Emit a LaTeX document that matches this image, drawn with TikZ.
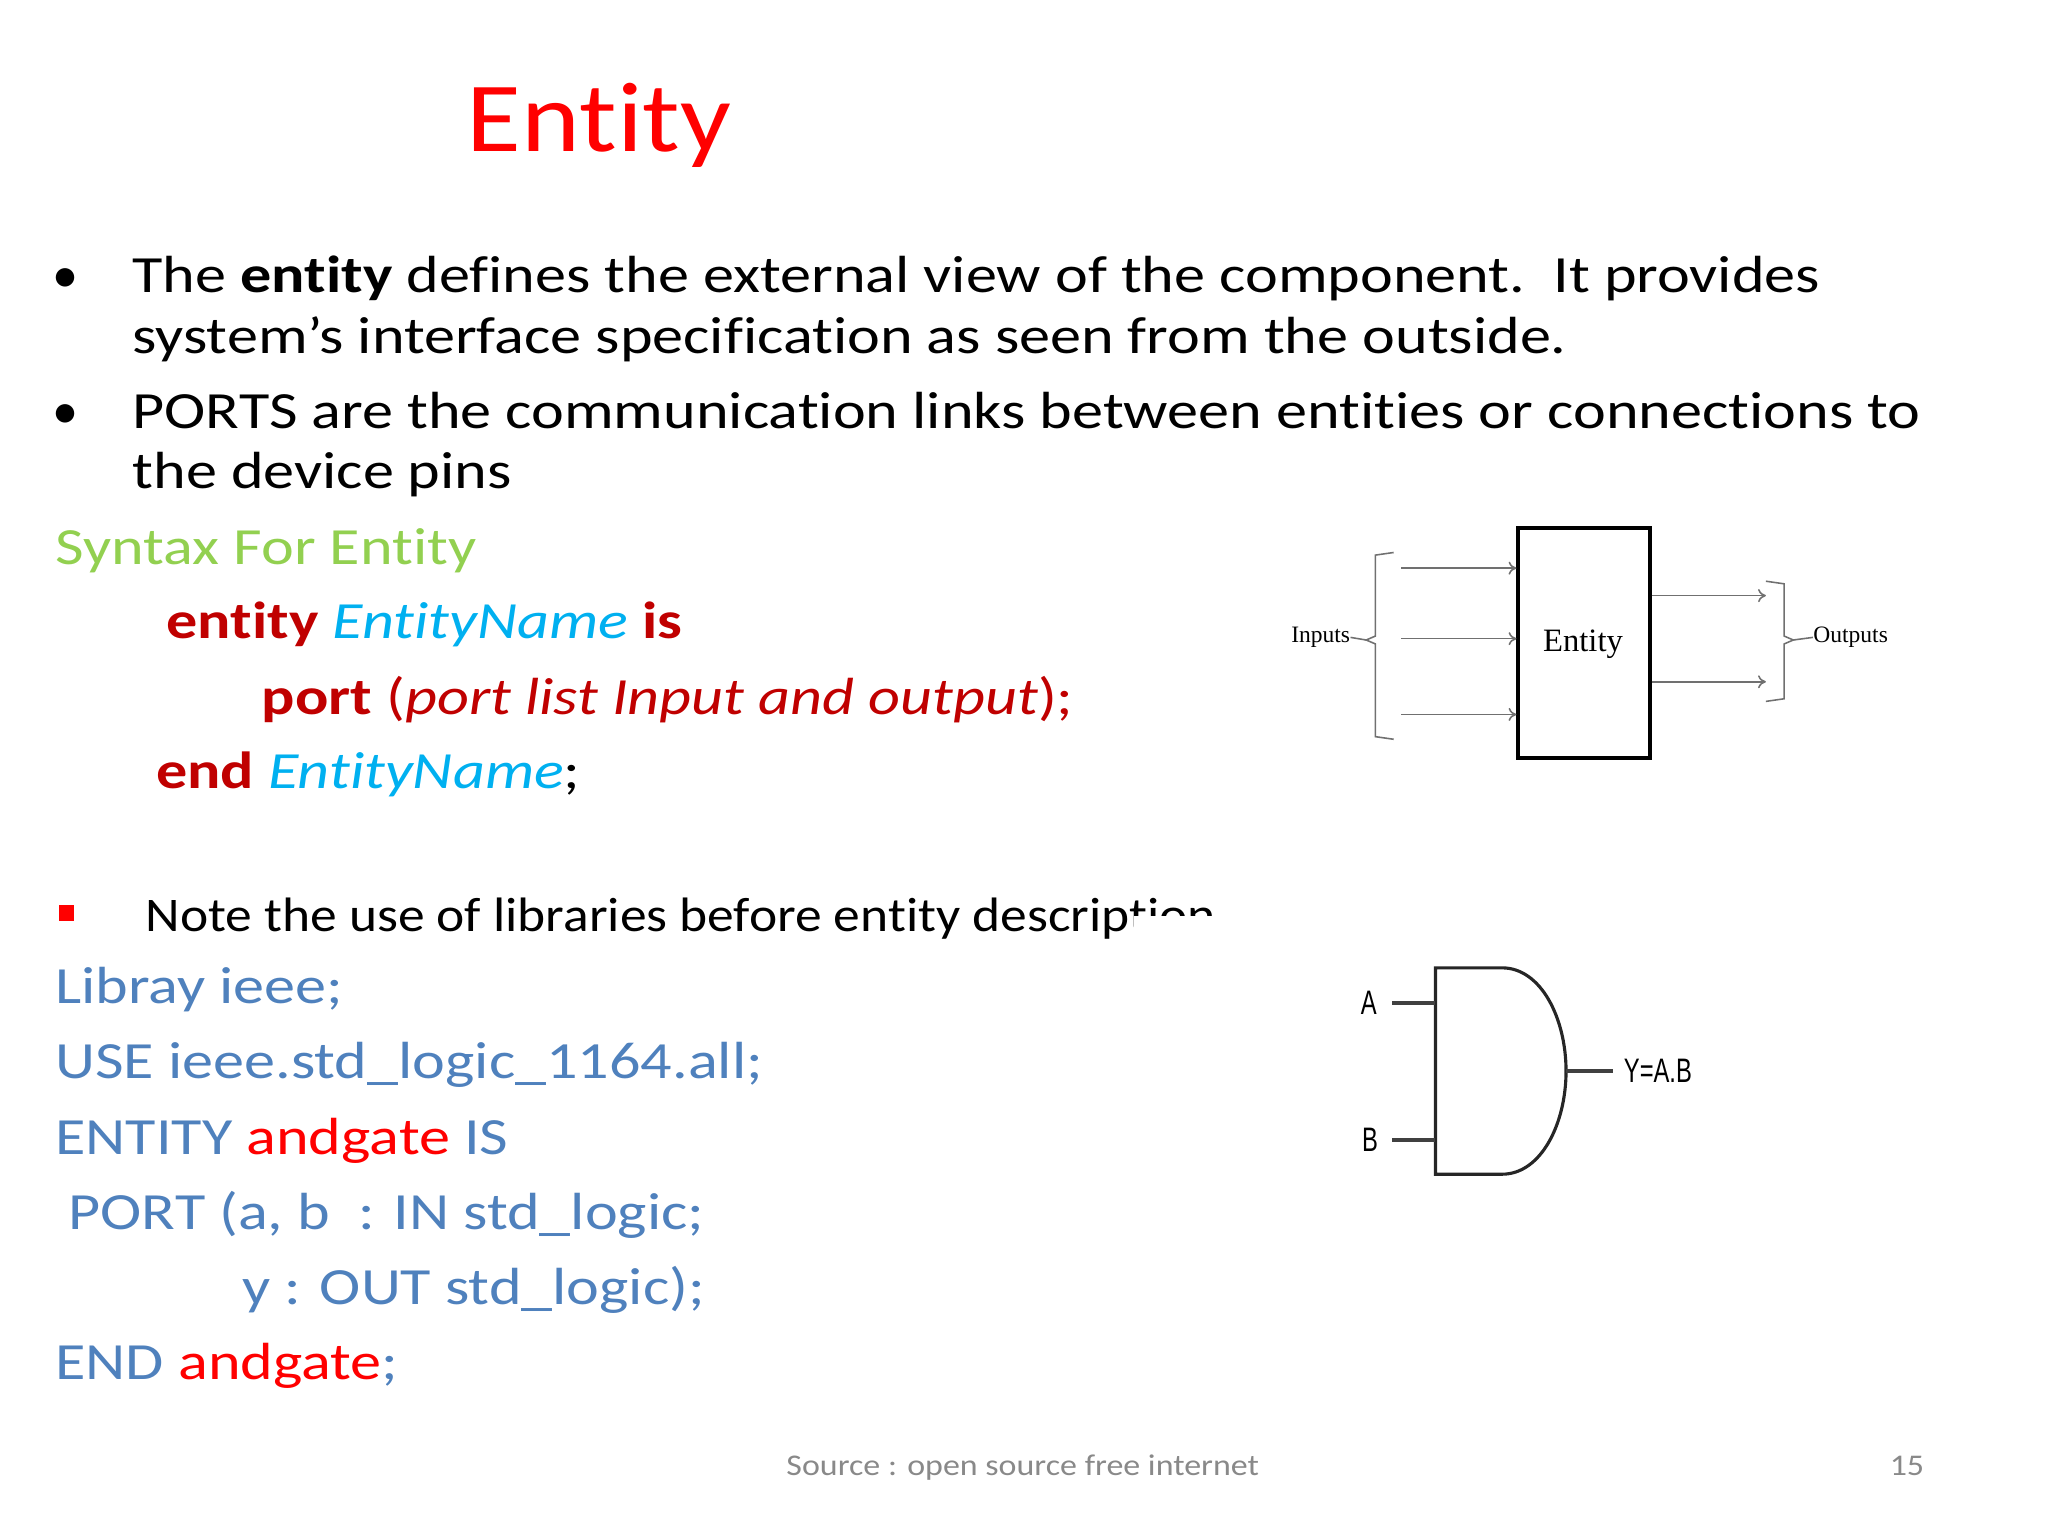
\documentclass[tikz,border=0pt]{standalone}
\usepackage{fontspec}
\setmainfont[Ligatures=NoCommon]{Carlito}
\newfontfamily\tnr{Liberation Serif}
\newfontfamily\gsans{Liberation Sans}
\usetikzlibrary{arrows.meta}
\definecolor{titred}{HTML}{FF0000}
\definecolor{dred}{HTML}{C00000}
\definecolor{synG}{HTML}{92D050}
\definecolor{cyanN}{HTML}{00B0F0}
\definecolor{codeB}{HTML}{4F81BD}
\definecolor{foot}{HTML}{898989}
\definecolor{lgray}{HTML}{707070}
\tikzset{
 txt/.style={anchor=base west,inner sep=0pt,xscale=1.19,font=\fontsize{20}{24}\selectfont},
 code/.style={txt,text=codeB},
 arr/.style={draw=lgray,line width=0.6pt,-{To[length=3pt,width=5pt]}},
 gate/.style={line width=1.2pt,black!85}
}
\begin{document}
\begin{tikzpicture}[x=0.5pt,y=-0.5pt]
\useasboundingbox (0,0) rectangle (1568,1176);
\node[anchor=base west,inner sep=0pt,text=titred,xscale=1.13,font=\fontsize{38}{44}\selectfont] (title) at (357,116) {Entity};
% bullets
\node[txt,xscale=0.84] (b1) at (40,224) {\textbullet};
\node[txt] (t1) at (101,224) {The \textbf{entity} defines the external view of the component.\ \ It provides};
\node[txt] (t2) at (101,271) {system’s interface specification as seen from the outside.};
\node[txt,xscale=0.84] (b2) at (40,328) {\textbullet};
\node[txt] (t3) at (101,328) {PORTS are the communication links between entities or connections to};
\node[txt] (t4) at (101,374) {the device pins};
% syntax
\node[txt,text=synG] (syn) at (42,432) {Syntax For Entity};
\node[txt] (s1) at (127,489) {\textcolor{dred}{\textbf{entity}} \textcolor{cyanN}{\itshape EntityName} \textcolor{dred}{\textbf{is}}};
\node[txt,text=dred] (s2) at (200,547) {\textbf{port} (\textit{port list Input and output});};
\node[txt] (s3) at (119,604) {\textcolor{dred}{\textbf{end}} \textcolor{cyanN}{\itshape EntityName};};
% note
\fill[titred] (45,693) rectangle (57,705);
\node[txt,xscale=0.93,font=\fontsize{18.5}{22}\selectfont] (note) at (111,713) {Note the use of libraries before entity description};
\fill[white] (868,701) rectangle (1010,724);
\fill[white] (935,680) rectangle (1010,724);
% code
\node[code] (c1) at (42,768) {Libray ieee;};
\node[code] (c2) at (42,826) {USE ieee.std\_logic\_1164.all;};
\node[code] (c3) at (42,884) {ENTITY \textcolor{titred}{andgate} IS};
\node[code] (c4) at (52,941) {PORT (a, b\ \ : IN std\_logic;};
\node[code] (c5) at (185,999) {y : OUT std\_logic);};
\node[code] (c6) at (42,1056) {END \textcolor{titred}{andgate};};
% footer
\node[anchor=base,inner sep=0pt,text=foot,xscale=1.13,font=\fontsize{11.5}{14}\selectfont] (src) at (783,1130) {Source : open source free internet};
\node[anchor=base,inner sep=0pt,text=foot,xscale=1.13,font=\fontsize{11.5}{14}\selectfont] (pg) at (1460,1130) {15};
% entity diagram
\node[draw,line width=1.3pt,minimum width=50.5pt,minimum height=88pt,inner sep=0pt,anchor=north west] (ent) at (1161,403) {};
\node[font=\tnr\fontsize{12.5}{15}\selectfont,inner sep=0pt] (entl) at (1212,493) {Entity};
\coordinate (i1) at (1073,435); \coordinate (i2) at (1073,489); \coordinate (i3) at (1073,547);
\draw[arr] (i1) -- (i1 -| ent.west);
\draw[arr] (i2) -- (i2 -| ent.west);
\draw[arr] (i3) -- (i3 -| ent.west);
\coordinate (o1) at (1352,456); \coordinate (o2) at (1352,522);
\draw[arr] (o1 -| ent.east) -- (o1);
\draw[arr] (o2 -| ent.east) -- (o2);
\draw[draw=lgray,line width=0.6pt] (1067,423) -- (1053,425) -- (1053,487) -- (1046,490) -- (1053,493) -- (1053,564) -- (1067,566);
\draw[draw=lgray,line width=0.6pt] (1352,445) -- (1366,447) -- (1366,487) -- (1373,490) -- (1366,493) -- (1366,535) -- (1352,537);
\node[anchor=east,inner sep=0pt,font=\tnr\fontsize{9}{11}\selectfont] (inl) at (1034,488) {Inputs};
\draw[lgray,line width=0.6pt] (inl.east) -- (1046,490);
\node[anchor=west,inner sep=0pt,font=\tnr\fontsize{9}{11}\selectfont] (outl) at (1388,488) {Outputs};
\draw[lgray,line width=0.6pt] (1373,490) -- (outl.west);
% and gate
\coordinate (gtl) at (1099,741); \coordinate (gbl) at (1099,899);
\draw[gate] (1150,741) -- (gtl) -- (gbl) -- (1150,899) .. controls (1180,899) and (1199,860) .. (1199,820) .. controls (1199,780) and (1180,741) .. (1150,741);
\coordinate (gout) at (1199,820);
\node[anchor=center,inner sep=0pt,font=\gsans\fontsize{13}{15}\selectfont,xscale=0.7] (la) at (1048,768) {A};
\node[anchor=center,inner sep=0pt,font=\gsans\fontsize{13}{15}\selectfont,xscale=0.7] (lb) at (1049,873) {B};
\node[anchor=west,inner sep=0pt,font=\gsans\fontsize{13}{15}\selectfont,xscale=0.7] (ly) at (1243,820) {Y=A.B};
\draw[line width=1.6pt,black!75] (1066,768) -- (1099,768);
\draw[line width=1.6pt,black!75] (1066,873) -- (1099,873);
\draw[line width=1.6pt,black!75] (gout) -- (1235,820);
\end{tikzpicture}
\end{document}
